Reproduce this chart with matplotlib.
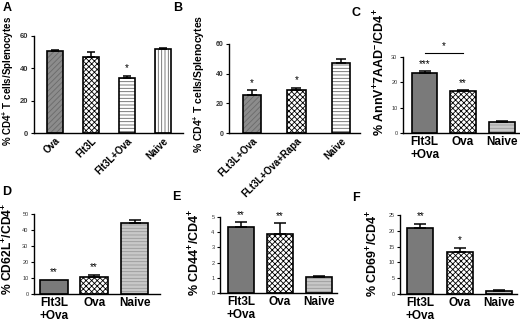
import numpy as np
import matplotlib
matplotlib.use("Agg")
import matplotlib.pyplot as plt

plt.rcParams['font.family'] = ['Liberation Sans', 'DejaVu Sans']
plt.rcParams['mathtext.fontset'] = 'custom'
plt.rcParams['mathtext.rm'] = 'Liberation Sans'
plt.rcParams['mathtext.bf'] = 'Liberation Sans:bold'
plt.rcParams['mathtext.default'] = 'bf'
plt.rcParams['hatch.linewidth'] = 0.6

# Panel data
a_groups = ["Ova", "Flt3L", "Flt3L+Ova", "Naive"]
a_means = [50.5, 47.0, 34.0, 51.7]
a_errs = [1.0, 3.0, 1.5, 0.8]
a_stars = ["", "", "*", ""]

b_groups = ["FLt3L+Ova", "FLt3L+Ova+Rapa", "Naive"]
b_means = [25.5, 29.0, 47.0]
b_errs = [3.3, 1.5, 3.0]
b_stars = ["*", "*", ""]

groups3 = ["Flt3L\n+Ova", "Ova", "Naive"]
c_means = [23.5, 16.5, 4.3]
c_errs = [0.8, 0.3, 0.3]
c_stars = ["***", "**", ""]

d_means = [9.0, 10.5, 44.5]
d_errs = [0.0, 1.6, 1.6]
d_stars = ["**", "**", ""]

e_means = [4.35, 3.9, 1.05]
e_errs = [0.3, 0.7, 0.08]
e_stars = ["**", "**", ""]

f_means = [21.0, 13.3, 1.1]
f_errs = [1.2, 1.3, 0.2]
f_stars = ["**", "*", ""]

# bar styles: (facecolor, hatch, hatchcolor)
DARK = ("#8c8c8c", "//////", "#6a6a6a")
CHECK = ("white", "xxxxxx", "black")
HLINE = ("white", "-----", "#666666")
VLINE = ("white", "|||||", "#666666")
LGRAY = ("#c8c8c8", "-----", "#999999")
SOLID = ("#7a7a7a", "", "#7a7a7a")

W, H = 520, 322
fig = plt.figure(figsize=(W / 100, H / 100), dpi=100)


def px_axes(l, r, t, b):
    return fig.add_axes([l / W, 1 - b / H, (r - l) / W, (b - t) / H])


def draw_panel(ax, labels, means, errs, stars, styles, width, xlim, ylim, yticks,
               ylabel, ylabel_fs, tick_fs, label_fs, rot, star_fs, cap):
    x = np.arange(len(means))
    for xi, m, e, st in zip(x, means, errs, styles):
        fc, hatch, hc = st
        ax.bar(xi, m, width, color=fc, edgecolor=hc, hatch=hatch, linewidth=0, zorder=2)
        ax.bar(xi, m, width, fill=False, edgecolor="black", linewidth=1.2, zorder=3)
        if e > 0:
            ax.errorbar(xi, m, yerr=[[0], [e]], fmt="none", ecolor="black",
                        elinewidth=1.1, capsize=cap, capthick=1.1, zorder=4)
    span = ylim[1] - ylim[0]
    for xi, m, e, s in zip(x, means, errs, stars):
        if s:
            ax.text(xi, m + e + span * 0.03, s, ha="center", va="bottom",
                    fontsize=star_fs, clip_on=False)
    ax.set_xlim(*xlim)
    ax.set_ylim(*ylim)
    ax.set_yticks(yticks)
    ax.set_xticks(x)
    ax.spines["top"].set_visible(False)
    ax.spines["right"].set_visible(False)
    ax.spines["left"].set_linewidth(1.0)
    ax.spines["bottom"].set_linewidth(1.0)
    ax.tick_params(axis="y", length=2.5, width=0.8, pad=1.5)
    if rot:
        ax.tick_params(axis="x", length=0, pad=2)
        ax.set_xticklabels(labels, rotation=45, ha="right", rotation_mode="anchor",
                           fontsize=label_fs, fontweight="bold")
    else:
        ax.tick_params(axis="x", length=0, pad=2.5)
        ax.set_xticklabels(labels, fontsize=label_fs, fontweight="bold",
                           linespacing=1.1)
    for t in ax.get_yticklabels():
        t.set_fontsize(tick_fs)
        t.set_color("#333333")
    ax.set_ylabel(ylabel, fontsize=ylabel_fs, fontweight="bold")


# A
axA = px_axes(34, 183, 36, 133)
draw_panel(axA, a_groups, a_means, a_errs, a_stars, [DARK, CHECK, HLINE, VLINE],
           0.44, (-0.58, 3.55), (0, 60), [0, 20, 40, 60],
           r"% CD4$^{+}$ T cells/Splenocytes", 7, 5.5, 7, True, 7, 2.6)
for t in axA.get_yticklabels():
    t.set_fontweight("bold")
axA.yaxis.set_label_coords(-0.12, 0.54)

# B
axB = px_axes(229, 360, 44, 133)
draw_panel(axB, b_groups, b_means, b_errs, b_stars, [DARK, CHECK, HLINE],
           0.41, (-0.52, 2.43), (0, 60), [0, 20, 40, 60],
           r"% CD4$^{+}$ T cells/Splenocytes", 7.5, 5.0, 7, True, 7, 3.5)
for t in axB.get_yticklabels():
    t.set_fontweight("bold")
axB.yaxis.set_label_coords(-0.17, 0.55)

# C
axC = px_axes(403, 519, 57, 133)
draw_panel(axC, groups3, c_means, c_errs, c_stars, [SOLID, CHECK, LGRAY],
           0.67, (-0.56, 2.45), (0, 30), [0, 10, 20, 30],
           r"% AnnV$^{+}$7AAD$^{-}$/CD4$^{+}$", 9, 4.0, 8.5, False, 7, 4)
axC.plot([0, 1], [31.5, 31.5], color="black", linewidth=0.8, clip_on=False)
axC.text(0.5, 32.3, "*", ha="center", va="bottom", fontsize=7, clip_on=False)
axC.yaxis.set_label_coords(-0.13, 0.8)

# D
axD = px_axes(34, 160, 214, 294)
draw_panel(axD, groups3, d_means, d_errs, d_stars, [SOLID, CHECK, LGRAY],
           0.69, (-0.49, 2.63), (0, 50), [0, 10, 20, 30, 40, 50],
           r"% CD62L$^{+}$/CD4$^{+}$", 8.7, 4.0, 8.5, False, 7, 4)
axD.yaxis.set_label_coords(-0.15, 0.57)

# E
axE = px_axes(220, 337, 217, 293)
draw_panel(axE, groups3, e_means, e_errs, e_stars, [SOLID, CHECK, LGRAY],
           0.67, (-0.54, 2.46), (0, 5), [0, 1, 2, 3, 4, 5],
           r"% CD44$^{+}$/CD4$^{+}$", 9, 4.0, 8.5, False, 7, 4)
axE.yaxis.set_label_coords(-0.145, 0.53)

# F
axF = px_axes(400, 517, 215, 294)
draw_panel(axF, groups3, f_means, f_errs, f_stars, [SOLID, CHECK, LGRAY],
           0.66, (-0.52, 2.45), (0, 25), [0, 5, 10, 15, 20, 25],
           r"% CD69$^{+}$/CD4$^{+}$", 9, 4.0, 8.5, False, 7, 4)
axF.yaxis.set_label_coords(-0.17, 0.51)

# panel letters
for letter, (xp, yp) in zip("ABCDEF", [(3, 8), (173, 8), (351, 13),
                                       (2, 192), (172, 197), (352, 198)]):
    fig.text(xp / W, 1 - yp / H, letter, fontsize=9, fontweight="bold", va="center")

fig.savefig("out.png", dpi=100)
